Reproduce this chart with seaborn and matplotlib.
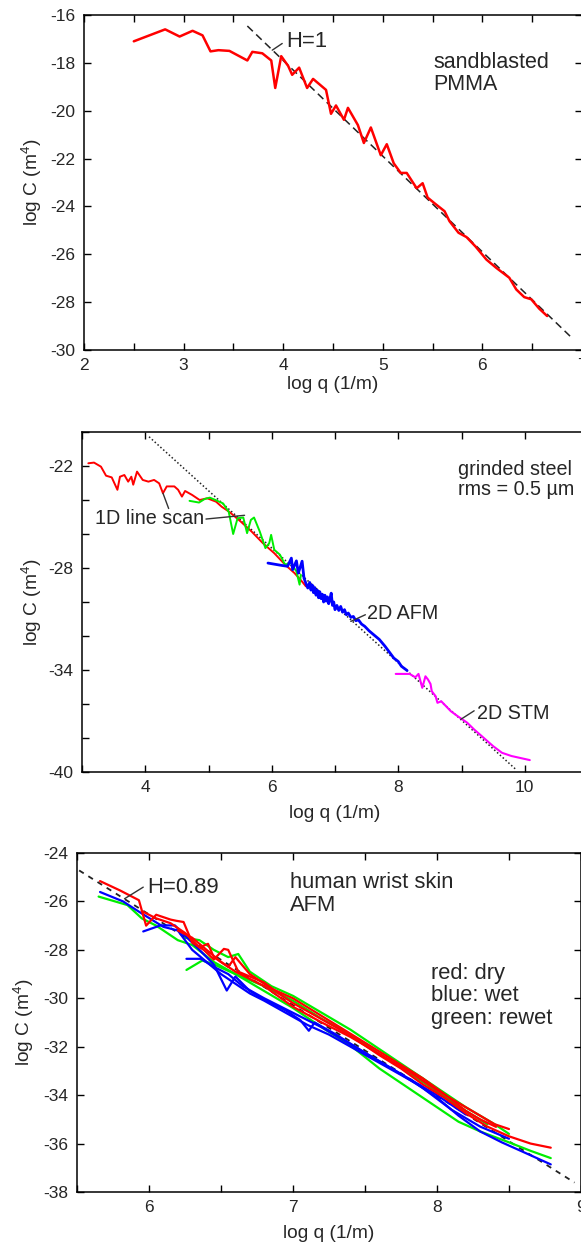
import numpy as np
import pandas as pd
import matplotlib
matplotlib.use("Agg")
import matplotlib.pyplot as plt
import seaborn as sns
from matplotlib.ticker import MultipleLocator, FixedLocator

# ---------------- data ----------------
# Panel 1: sandblasted PMMA
pmma_logq = [2.50, 2.815, 2.96, 3.09, 3.19, 3.27, 3.35, 3.46, 3.64, 3.69, 3.79, 3.88, 3.92, 3.98,
             4.05, 4.09, 4.16, 4.24, 4.30, 4.43, 4.48, 4.53, 4.61, 4.65, 4.75, 4.81, 4.88, 4.98,
             5.04, 5.11, 5.18, 5.24, 5.34, 5.40, 5.45, 5.52, 5.62, 5.67, 5.76, 5.84, 5.93, 6.04,
             6.14, 6.27, 6.34, 6.42, 6.49, 6.57, 6.65]
pmma_logC = [-17.1, -16.6, -16.9, -16.66, -16.85, -17.52, -17.47, -17.5, -17.9, -17.54, -17.6, -17.9,
             -19.05, -17.72, -18.13, -18.5, -18.2, -19.05, -18.67, -19.13, -20.13, -19.78, -20.38,
             -19.88, -20.6, -21.35, -20.7, -21.86, -21.4, -22.2, -22.6, -22.6, -23.24, -23.03,
             -23.63, -23.87, -24.2, -24.62, -25.1, -25.28, -25.67, -26.22, -26.57, -26.98, -27.47,
             -27.79, -27.88, -28.27, -28.58]
pmma_fit_logq = [3.64, 6.88]
pmma_fit_logC = [-16.46, -29.42]

# Panel 2: grinded steel
steel_line_logq = [3.10, 3.19, 3.30, 3.38, 3.47, 3.56, 3.60, 3.67, 3.73, 3.78, 3.81, 3.87, 3.96, 4.05,
                   4.14, 4.22, 4.28, 4.34, 4.46, 4.52, 4.58, 4.63, 4.74, 4.86, 4.98, 5.12, 5.21,
                   5.33, 5.51, 5.68, 5.86, 6.04, 6.21, 6.36, 6.48, 6.54]
steel_line_logC = [-21.84, -21.8, -22.04, -22.57, -22.67, -23.4, -22.63, -22.53, -22.92, -22.63, -23.1,
                   -22.33, -22.82, -22.92, -22.82, -23.02, -23.6, -23.2, -23.2, -23.4, -23.8, -23.47,
                   -23.7, -24.0, -23.9, -24.1, -24.4, -24.7, -25.27, -25.85, -26.54, -27.13, -27.8,
                   -28.3, -28.8, -29.08]
steel_green_logq = [4.70, 4.85, 4.94, 5.02, 5.11, 5.23, 5.32, 5.39, 5.46, 5.55, 5.61, 5.67, 5.72, 5.81,
                    5.90, 5.96, 5.99, 6.04, 6.13, 6.21, 6.30, 6.39, 6.44, 6.46]
steel_green_logC = [-24.05, -24.15, -23.94, -23.86, -24.0, -24.2, -24.7, -26.0, -25.07, -25.03, -25.95,
                    -25.17, -25.03, -25.85, -26.83, -26.54, -26.05, -26.93, -27.22, -27.8, -27.7,
                    -28.2, -28.98, -28.4]
steel_afm_logq = [5.94, 6.16, 6.25, 6.31, 6.33, 6.39, 6.42, 6.48, 6.51, 6.54, 6.57, 6.60, 6.62, 6.64,
                  6.66, 6.68, 6.70, 6.72, 6.74, 6.76, 6.78, 6.80, 6.82, 6.84, 6.86, 6.88, 6.90, 6.92,
                  6.94, 6.96, 6.98, 7.00, 7.03, 7.06, 7.09, 7.12, 7.15, 7.18, 7.21, 7.25, 7.29, 7.33,
                  7.37, 7.42, 7.47, 7.54, 7.61, 7.70, 7.79, 7.86, 7.93, 8.00, 8.05, 8.14]
steel_afm_logC = [-27.71, -27.85, -27.9, -27.42, -28.1, -27.58, -28.3, -27.6, -28.6, -28.9, -29.18,
                  -28.85, -29.3, -29.0, -29.45, -29.15, -29.6, -29.3, -29.75, -29.4, -29.8, -29.55,
                  -30.0, -29.6, -29.95, -29.7, -30.1, -29.8, -29.48, -30.2, -30.0, -30.45, -30.2,
                  -30.5, -30.26, -30.6, -30.45, -30.75, -30.65, -30.9, -30.85, -31.1, -31.05, -31.3,
                  -31.43, -31.7, -31.92, -32.2, -32.6, -32.95, -33.3, -33.5, -33.78, -34.03]
steel_stm_logq = [7.96, 8.18, 8.27, 8.32, 8.38, 8.43, 8.47, 8.51, 8.53, 8.59, 8.62, 8.68, 8.74, 8.83,
                  8.94, 9.09, 9.20, 9.32, 9.50, 9.64, 9.79, 9.96, 10.08]
steel_stm_logC = [-34.23, -34.23, -34.43, -34.23, -35.05, -34.37, -34.56, -34.82, -35.25, -35.54,
                  -35.93, -35.84, -36.07, -36.42, -36.72, -37.1, -37.5, -37.89, -38.48, -38.87,
                  -39.06, -39.2, -39.3]
steel_fit_logq = [4.06, 9.86]
steel_fit_logC = [-20.28, -39.85]

# Panel 3: human wrist skin (AFM)
dry1_logq = [5.66, 5.80, 5.93, 5.98, 6.05, 6.15, 6.19, 6.24, 6.30, 6.38, 6.45, 6.52, 6.55, 6.62, 6.70,
             6.80, 6.90, 7.00, 7.15, 7.30, 7.45, 7.60, 7.75, 7.90, 8.05, 8.20, 8.35, 8.50, 8.65, 8.79]
dry1_logC = [-25.16, -25.55, -25.95, -27.0, -26.55, -26.75, -26.8, -26.85, -27.7, -28.0, -28.4, -27.96,
             -28.0, -28.9, -29.1, -29.35, -29.8, -30.2, -30.7, -31.2, -31.75, -32.35, -32.9, -33.55,
             -34.1, -34.75, -35.3, -35.7, -36.0, -36.17]
dry2_logq = [5.95, 6.05, 6.15, 6.25, 6.35, 6.41, 6.45, 6.55, 6.60, 6.70, 6.85, 7.00, 7.15, 7.30, 7.45,
             7.60, 7.75, 7.90, 8.05, 8.20, 8.30, 8.41]
dry2_logC = [-26.4, -26.7, -26.9, -27.3, -27.9, -27.75, -28.3, -28.7, -28.3, -29.0, -29.6, -30.0,
             -30.55, -31.1, -31.65, -32.2, -32.75, -33.3, -33.95, -34.65, -35.0, -35.31]
dry3_logq = [6.20, 6.30, 6.40, 6.50, 6.60, 6.80, 7.00, 7.20, 7.40, 7.60, 7.80, 8.00, 8.20, 8.40, 8.50]
dry3_logC = [-27.2, -27.5, -28.0, -28.5, -28.9, -29.5, -30.35, -31.0, -31.6, -32.3, -33.0, -33.8, -34.5,
             -35.2, -35.4]
wet1_logq = [5.66, 5.82, 5.95, 6.10, 6.20, 6.30, 6.40, 6.50, 6.60, 6.70, 6.80, 6.95, 7.10, 7.25, 7.40,
             7.55, 7.70, 7.85, 8.00, 8.15, 8.30, 8.45, 8.60, 8.79]
wet1_logC = [-25.61, -26.0, -26.5, -27.05, -27.2, -28.0, -28.5, -29.0, -29.4, -29.8, -30.1, -30.6, -31.1,
             -31.5, -32.0, -32.5, -33.0, -33.5, -34.1, -34.85, -35.5, -35.95, -36.35, -36.86]
wet2_logq = [5.96, 6.08, 6.18, 6.23, 6.30, 6.45, 6.54, 6.60, 6.70, 6.80, 6.95, 7.05, 7.11, 7.15, 7.30,
             7.50, 7.70, 7.90, 8.10, 8.30, 8.50]
wet2_logC = [-27.24, -26.99, -26.99, -27.3, -27.7, -28.6, -29.68, -29.1, -29.7, -30.05, -30.5, -30.9,
             -31.34, -31.0, -31.5, -32.25, -32.95, -33.7, -34.6, -35.3, -35.8]
wet3_logq = [6.26, 6.36, 6.45, 6.55, 6.65, 6.80, 7.00, 7.20, 7.40, 7.60, 7.80, 8.00, 8.20]
wet3_logC = [-28.37, -28.37, -28.7, -29.0, -29.5, -30.0, -30.6, -31.2, -31.9, -32.6, -33.3, -34.0, -34.8]
rewet1_logq = [5.65, 5.85, 5.95, 6.05, 6.15, 6.20, 6.30, 6.45, 6.60, 6.80, 7.00, 7.20, 7.40, 7.60, 7.80,
               8.00, 8.15, 8.30, 8.50, 8.65, 8.79]
rewet1_logC = [-25.8, -26.15, -26.7, -27.0, -27.4, -27.6, -27.8, -28.5, -29.0, -29.7, -30.4, -31.2,
               -31.95, -32.9, -33.7, -34.5, -35.1, -35.5, -35.95, -36.3, -36.6]
rewet2_logq = [6.25, 6.35, 6.45, 6.55, 6.62, 6.70, 6.85, 7.00, 7.20, 7.40, 7.60, 7.80, 8.00, 8.20, 8.40,
               8.50]
rewet2_logC = [-27.5, -27.6, -28.0, -28.3, -28.17, -28.9, -29.5, -29.9, -30.6, -31.3, -32.1, -32.9,
               -33.7, -34.5, -35.2, -35.6]
rewet3_logq = [6.26, 6.37, 6.45, 6.60, 6.80, 7.00, 7.20, 7.40, 7.60, 7.80, 8.00, 8.20, 8.35]
rewet3_logC = [-28.83, -28.44, -28.6, -29.0, -29.5, -30.1, -30.85, -31.5, -32.3, -33.05, -33.85, -34.65,
               -35.2]
skin_fit_logq = [5.515, 8.955]
skin_fit_logC = [-24.72, -37.61]

# ---------------- style ----------------
sns.set_style("ticks")
plt.rcParams['font.family'] = ['Liberation Sans', 'DejaVu Sans']
plt.rcParams['mathtext.fontset'] = 'custom'
plt.rcParams['mathtext.rm'] = 'Liberation Sans'
plt.rcParams['axes.unicode_minus'] = False

RED, GREEN, BLUE, MAG = '#ff0000', '#00ee00', '#0000ff', '#ff00ff'
TICK_FS, LAB_FS = 12.5, 13.8

fig = plt.figure(figsize=(5.81, 12.5), dpi=100)
W, H = 581.0, 1250.0


def make_ax(left, right, top, bottom):
    return fig.add_axes([left / W, 1 - bottom / H, (right - left) / W, (bottom - top) / H])


def draw(ax, xs, ys, color, lw=1.6, ls='-'):
    df = pd.DataFrame({'x': xs, 'y': ys})
    sns.lineplot(data=df, x='x', y='y', ax=ax, color=color, lw=lw, ls=ls,
                 sort=False, estimator=None, legend=False)


def style(ax):
    for s in ax.spines.values():
        s.set_linewidth(1.1)
        s.set_color('black')
    ax.tick_params(which='both', direction='in', top=True, right=True,
                   labelsize=TICK_FS, color='black', width=1.0)
    ax.tick_params(which='both', length=5)
    ax.tick_params(axis='y', which='both', pad=6)
    ax.tick_params(axis='x', which='both', pad=6)
    ax.set_xlabel('log q (1/m)', fontsize=LAB_FS)
    ax.set_ylabel('log C (m$^\\mathregular{4}$)', fontsize=LAB_FS)


def leader(ax, x0, y0, x1, y1):
    ax.plot([x0, x1], [y0, y1], color='#333333', lw=1.0)


# ---- Panel 1 ----
ax1 = make_ax(84, 582, 15, 350)
draw(ax1, pmma_fit_logq, pmma_fit_logC, '#222222', lw=1.1, ls=(0, (5, 3)))
draw(ax1, pmma_logq, pmma_logC, RED, lw=1.8)
ax1.set_xlim(2, 7)
ax1.set_ylim(-30, -16)
ax1.xaxis.set_major_locator(MultipleLocator(1))
ax1.xaxis.set_minor_locator(MultipleLocator(0.5))
ax1.yaxis.set_major_locator(MultipleLocator(2))
style(ax1)
ax1.text(4.03, -17.1, 'H=1', fontsize=15.8, va='center', ha='left')
leader(ax1, 3.89, -17.47, 3.99, -17.19)
ax1.text(5.51, -18.45, 'sandblasted\nPMMA', fontsize=15.5, va='center', ha='left', linespacing=1.1)
ax1.xaxis.labelpad = 2
ax1.yaxis.set_label_coords(-0.080, 0.5)

# ---- Panel 2 ----
ax2 = make_ax(82, 588, 432, 772)
draw(ax2, steel_fit_logq, steel_fit_logC, '#222222', lw=1.1, ls=(0, (1, 1.5)))
draw(ax2, steel_line_logq, steel_line_logC, RED, lw=1.4)
draw(ax2, steel_green_logq, steel_green_logC, GREEN, lw=1.4)
draw(ax2, steel_afm_logq, steel_afm_logC, BLUE, lw=2.0)
draw(ax2, steel_stm_logq, steel_stm_logC, MAG, lw=1.5)
ax2.set_xlim(3, 11)
ax2.set_ylim(-40, -20)
ax2.xaxis.set_major_locator(FixedLocator([4, 6, 8, 10]))
ax2.xaxis.set_minor_locator(MultipleLocator(1))
ax2.yaxis.set_major_locator(FixedLocator([-40, -34, -28, -22]))
ax2.yaxis.set_minor_locator(MultipleLocator(2))
style(ax2)
ax2.text(3.2, -25.07, '1D line scan', fontsize=14.2, va='center', ha='left')
leader(ax2, 4.28, -23.6, 4.37, -24.5)
leader(ax2, 4.96, -25.12, 5.57, -24.9)
ax2.text(7.5, -30.69, '2D AFM', fontsize=14.2, va='center', ha='left')
leader(ax2, 7.25, -31.14, 7.48, -30.75)
ax2.text(9.25, -36.56, '2D STM', fontsize=14.2, va='center', ha='left')
leader(ax2, 8.99, -36.9, 9.2, -36.4)
ax2.text(8.94, -22.8, 'grinded steel\nrms = 0.5 µm', fontsize=14.2, va='center', ha='left',
         linespacing=1.1)
ax2.xaxis.labelpad = 7
ax2.yaxis.set_label_coords(-0.076, 0.5)

# ---- Panel 3 ----
ax3 = make_ax(77, 581, 853, 1192)
draw(ax3, skin_fit_logq, skin_fit_logC, '#222222', lw=1.3, ls=(0, (3, 3)))
for xs, ys in [(rewet1_logq, rewet1_logC), (rewet2_logq, rewet2_logC), (rewet3_logq, rewet3_logC)]:
    draw(ax3, xs, ys, GREEN, lw=1.6)
for xs, ys in [(wet1_logq, wet1_logC), (wet2_logq, wet2_logC), (wet3_logq, wet3_logC)]:
    draw(ax3, xs, ys, BLUE, lw=1.6)
for xs, ys in [(dry1_logq, dry1_logC), (dry2_logq, dry2_logC), (dry3_logq, dry3_logC)]:
    draw(ax3, xs, ys, RED, lw=1.6)
ax3.set_xlim(5.5, 9)
ax3.set_ylim(-38, -24)
ax3.xaxis.set_major_locator(MultipleLocator(1))
ax3.xaxis.set_minor_locator(MultipleLocator(0.5))
ax3.yaxis.set_major_locator(MultipleLocator(2))
style(ax3)
ax3.text(5.99, -25.41, 'H=0.89', fontsize=15.8, va='center', ha='left')
leader(ax3, 5.83, -25.89, 5.96, -25.41)
ax3.text(6.98, -25.7, 'human wrist skin\nAFM', fontsize=15.8, va='center', ha='left', linespacing=1.1)
ax3.text(7.96, -29.9, 'red: dry\nblue: wet\ngreen: rewet', fontsize=15.8, va='center', ha='left',
         linespacing=1.1)
ax3.xaxis.labelpad = 7
ax3.yaxis.set_label_coords(-0.082, 0.5)

fig.savefig('out.png', dpi=100)
